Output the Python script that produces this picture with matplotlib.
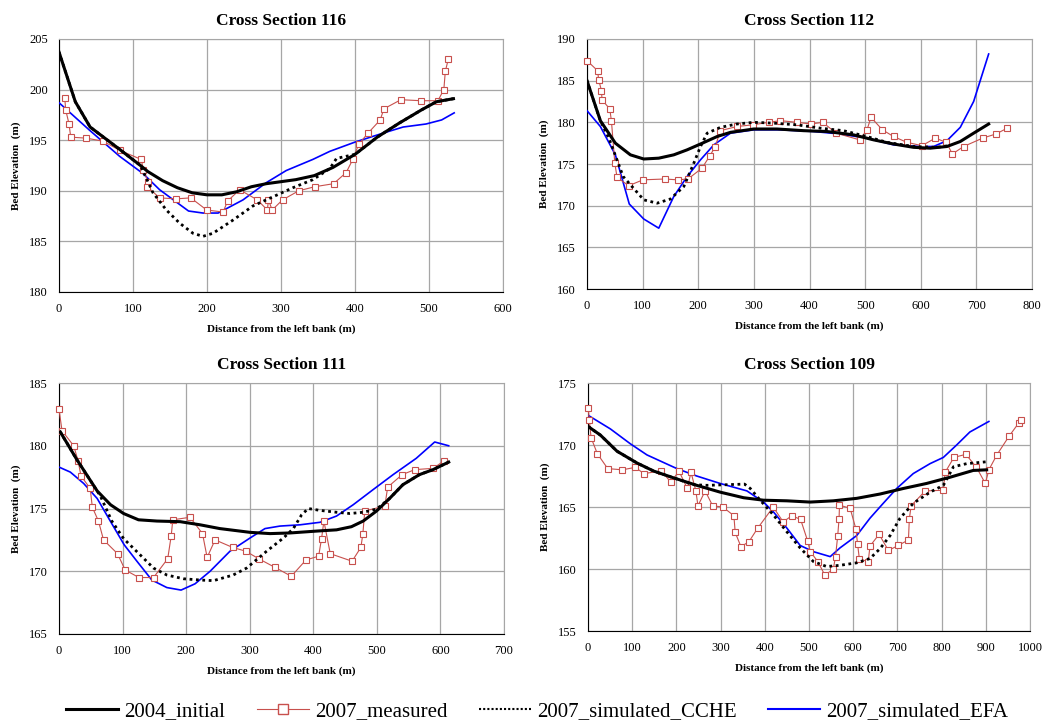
import matplotlib
matplotlib.use("Agg")
import matplotlib.pyplot as plt
from matplotlib.lines import Line2D

plt.rcParams["font.family"] = ["Liberation Serif", "DejaVu Serif"]

# ---- Cross Section 116 ----
xs116_init = [0, 22, 42, 80, 110, 120, 140, 160, 180, 200, 220, 240, 260, 280, 300, 320, 345, 370, 400, 430, 460, 490, 510, 533]
ys116_init = [203.7, 198.8, 196.3, 194.2, 192.5, 191.9, 191.0, 190.3, 189.8, 189.6, 189.6, 189.9, 190.4, 190.7, 190.9, 191.1,
              191.5, 192.3, 193.6, 195.3, 196.7, 198.0, 198.8, 199.1]
xs116_meas = [7.7, 9, 13.5, 15.8, 37, 59.5, 82, 111, 114, 120, 119, 136, 158, 178, 199.5, 221.6, 228, 244, 268, 281.5, 283,
              288, 302, 324, 345.5, 371, 388, 397, 405, 417.6, 434, 439, 462, 489, 512, 520, 522, 526]
ys116_meas = [199.2, 198.0, 196.6, 195.3, 195.2, 194.9, 194.0, 193.1, 192.1, 190.9, 190.4, 189.3, 189.2, 189.3, 188.1, 187.9,
              189.0, 190.1, 189.1, 188.1, 189.1, 188.1, 189.1, 190.0, 190.4, 190.7, 191.8, 193.1, 194.6, 195.7, 197.0, 198.1,
              199.0, 198.9, 198.9, 200.0, 201.8, 203.0]
xs116_cche = [0, 22, 42, 80, 110, 127, 145, 163, 181, 194.6, 208, 235, 262, 289, 316, 343, 366, 375, 400, 430, 460, 490, 510, 533]
ys116_cche = [203.7, 198.8, 196.3, 194.2, 192.5, 189.8, 188.1, 186.8, 185.8, 185.5, 185.8, 187.1, 188.5, 189.4, 190.3, 191.1,
              192.2, 193.2, 193.6, 195.3, 196.7, 198.0, 198.8, 199.1]
xs116_efa = [0, 41, 82, 113.5, 136, 175, 194.6, 215, 248.6, 280, 307, 343, 366, 399.5, 438, 465, 496, 517, 534]
ys116_efa = [198.7, 196.0, 193.4, 191.7, 190.1, 188.0, 187.8, 187.8, 189.1, 190.8, 192.0, 193.1, 193.9, 194.8, 195.7, 196.3,
             196.6, 197.0, 197.7]

# ---- Cross Section 112 ----
xs112_init = [0, 24, 51, 78, 102, 129, 156, 180, 204, 234, 258, 300, 341.5, 389.5, 431, 479, 515, 551, 587, 617, 647, 671, 695, 722]
ys112_init = [185.0, 180.2, 177.5, 176.1, 175.6, 175.7, 176.1, 176.7, 177.4, 178.3, 178.8, 179.2, 179.2, 179.0, 178.9, 178.5,
              177.9, 177.4, 177.0, 176.9, 177.1, 177.7, 178.7, 179.8]
xs112_meas = [0, 19, 21, 26, 27, 41, 44, 50, 54, 75, 100.6, 139.6, 163, 181.5, 206.7, 221, 230.7, 239.7, 269.6, 298, 326.5,
              347.5, 377.5, 402.6, 423.6, 448, 490, 503.3, 510.5, 531, 551, 575, 602, 626, 646, 656.7, 677, 711, 735, 755.5]
ys112_meas = [187.4, 186.2, 185.1, 183.8, 182.7, 181.6, 180.1, 175.1, 173.4, 172.4, 173.1, 173.2, 173.1, 173.2, 174.5, 176.0,
              177.1, 179.0, 179.5, 179.7, 180.0, 180.2, 180.0, 179.8, 180.0, 178.7, 177.9, 179.1, 180.6, 179.1, 178.3, 177.6,
              177.2, 178.1, 177.6, 176.2, 177.1, 178.1, 178.6, 179.3]
xs112_cche = [0, 24, 40, 65, 102, 126, 150, 174, 192, 204, 216, 240, 269.6, 300, 336, 377.5, 419.5, 461, 503, 539, 587, 629, 650]
ys112_cche = [185.0, 180.2, 178.0, 173.5, 170.7, 170.3, 170.8, 172.3, 175.1, 177.1, 178.7, 179.4, 179.8, 180.0, 179.9, 179.7,
              179.3, 179.0, 178.3, 177.6, 177.1, 177.0, 177.2]
xs112_efa = [0, 24, 51, 76, 102, 129, 156, 180, 204, 228, 258, 300, 347, 407, 455, 503, 551, 599, 623, 647, 671, 695, 722]
ys112_efa = [181.4, 179.5, 176.1, 170.2, 168.4, 167.3, 171.1, 173.5, 175.5, 177.3, 178.7, 179.1, 179.1, 178.9, 178.6, 178.1,
             177.3, 177.1, 177.1, 177.8, 179.4, 182.5, 188.2]

# ---- Cross Section 111 ----
xs111_init = [2, 28, 60, 81, 101.6, 125, 154, 190.6, 222, 253, 300.5, 332, 363, 405, 436.6, 460, 478.5, 499.5, 520, 541, 567,
              588.5, 613]
ys111_init = [181.1, 178.9, 176.4, 175.3, 174.6, 174.1, 174.0, 173.95, 173.7, 173.4, 173.1, 173.0, 173.05, 173.2, 173.3,
              173.55, 174.0, 174.8, 175.8, 176.9, 177.7, 178.1, 178.7]
xs111_meas = [0, 4.7, 23, 30, 34.5, 49, 52.4, 62, 70, 92, 104, 125.7, 148.7, 171, 176.4, 179, 206, 225.7, 233, 245.5, 273,
              293.7, 314, 340, 365.4, 388.5, 408.4, 413, 416.7, 426.7, 461, 474.9, 478, 481, 512.6, 517, 539.8, 559.8,
              588.5, 605.8]
ys111_meas = [182.9, 181.2, 180.0, 178.8, 177.6, 176.6, 175.1, 174.0, 172.5, 171.4, 170.1, 169.5, 169.5, 171.0, 172.8, 174.1,
              174.3, 173.0, 171.1, 172.5, 171.9, 171.6, 171.0, 170.3, 169.6, 170.9, 171.2, 172.6, 174.0, 171.4, 170.8,
              171.9, 173.0, 174.8, 175.2, 176.7, 177.7, 178.1, 178.2, 178.8]
xs111_cche = [2, 28, 65, 83, 101.6, 127.7, 148.7, 169.6, 195.8, 222, 243, 274, 295, 326.7, 353, 368.6, 381.7, 392, 410.5,
              436.6, 457.5, 478.5, 499.5, 520, 541, 567, 588.5, 613]
ys111_cche = [181.1, 178.9, 176.0, 174.0, 172.6, 171.3, 170.25, 169.7, 169.4, 169.3, 169.25, 169.7, 170.25, 171.6, 172.65,
              173.4, 174.5, 175.0, 174.85, 174.7, 174.6, 174.7, 174.95, 175.8, 176.9, 177.7, 178.1, 178.7]
xs111_efa = [0, 17.8, 38.7, 60, 80.6, 102.6, 122.5, 146, 169.6, 192, 214, 237.7, 269, 300.5, 324, 347.6, 379, 410.5, 436.6,
             462.8, 494, 525.6, 562, 591, 613]
ys111_efa = [178.3, 177.9, 177.0, 175.8, 174.0, 172.1, 170.8, 169.3, 168.7, 168.5, 169.0, 170.0, 171.6, 172.65, 173.4, 173.6,
             173.7, 173.9, 174.4, 175.3, 176.5, 177.7, 179.0, 180.3, 180.0]

# ---- Cross Section 109 ----
xs109_init = [0, 28, 65.6, 110.8, 148.5, 193.7, 246, 299, 352, 397, 450, 502.6, 555, 608, 661, 714, 766, 819, 871.5, 902]
ys109_init = [171.5, 170.8, 169.5, 168.55, 167.9, 167.35, 166.75, 166.2, 165.75, 165.55, 165.5, 165.4, 165.5, 165.7, 166.05,
              166.5, 166.9, 167.4, 167.95, 168.0]
xs109_meas = [0, 3, 6.8, 21, 44.5, 77.6, 107, 126, 166, 187.6, 205.7, 224.6, 233, 244, 248.7, 265, 282, 305, 330, 333, 346,
              364, 384, 419, 441.6, 461, 481, 496.6, 503, 520, 536, 555, 560, 565, 568, 569, 593, 606, 610, 614, 634, 638,
              658.6, 679.7, 702, 725, 727, 731, 763, 804, 808, 828, 855, 879, 899, 907, 925, 952.5, 975, 980]
ys109_meas = [173.0, 172.0, 170.6, 169.3, 168.1, 168.0, 168.2, 167.7, 167.9, 167.0, 167.9, 166.5, 167.8, 166.3, 165.1, 166.3,
              165.1, 165.0, 164.3, 162.95, 161.8, 162.2, 163.3, 165.0, 163.8, 164.3, 164.0, 162.3, 161.4, 160.6, 159.5,
              160.0, 161.0, 162.7, 164.05, 165.15, 164.9, 163.25, 162.0, 160.8, 160.6, 161.85, 162.8, 161.5, 161.9, 162.35,
              164.0, 165.1, 166.3, 166.35, 167.8, 169.0, 169.25, 168.2, 166.9, 168.0, 169.2, 170.7, 171.8, 172.0]
xs109_cche = [0, 28, 65.6, 110.8, 148.5, 193.7, 239, 269, 314, 354, 367, 389.6, 419.7, 450, 480, 510, 540, 570, 608, 638,
              661, 683.5, 706, 736, 774, 804, 827, 857, 902]
ys109_cche = [171.5, 170.8, 169.5, 168.55, 167.9, 167.35, 166.8, 166.75, 166.8, 166.85, 166.5, 165.55, 164.35, 163.0, 161.7,
              160.6, 160.2, 160.3, 160.5, 160.85, 161.65, 162.7, 164.1, 165.3, 166.2, 166.75, 168.25, 168.5, 168.65]
xs109_efa = [0, 50.5, 95.7, 133.4, 201, 246, 299, 359.5, 397, 419.7, 450, 480, 510, 548, 570, 608, 638, 668, 698.6, 736, 774,
             804, 834, 864, 907]
ys109_efa = [172.4, 171.3, 170.1, 169.2, 168.1, 167.5, 166.9, 166.3, 165.4, 164.6, 163.3, 161.9, 161.4, 161.0, 161.7, 162.7,
             164.1, 165.3, 166.5, 167.7, 168.5, 169.0, 170.0, 171.05, 171.9]

RED = "#C8504D"

panels = [
    ("Cross Section 116", [0.0566, 0.5956, 0.4257, 0.3504], (0, 600, 100), (180, 205, 5),
     (xs116_init, ys116_init), (xs116_meas, ys116_meas), (xs116_cche, ys116_cche), (xs116_efa, ys116_efa)),
    ("Cross Section 112", [0.5628, 0.5997, 0.4267, 0.3463], (0, 800, 100), (160, 190, 5),
     (xs112_init, ys112_init), (xs112_meas, ys112_meas), (xs112_cche, ys112_cche), (xs112_efa, ys112_efa)),
    ("Cross Section 111", [0.0566, 0.1219, 0.4266, 0.3476], (0, 700, 100), (165, 185, 5),
     (xs111_init, ys111_init), (xs111_meas, ys111_meas), (xs111_cche, ys111_cche), (xs111_efa, ys111_efa)),
    ("Cross Section 109", [0.5638, 0.1260, 0.4237, 0.3435], (0, 1000, 100), (155, 175, 5),
     (xs109_init, ys109_init), (xs109_meas, ys109_meas), (xs109_cche, ys109_cche), (xs109_efa, ys109_efa)),
]

fig = plt.figure(figsize=(10.43, 7.22), dpi=100)

for title, rect, (x0, x1, dx), (y0, y1, dy), init, meas, cche, efa in panels:
    ax = fig.add_axes(rect)
    ax.plot(*efa, color="#0000FF", lw=1.2, zorder=3)
    ax.plot(*meas, color=RED, lw=0.8, marker="s", ms=4, mfc="white", mec=RED, mew=0.8, zorder=4, clip_on=False)
    ax.plot(*cche, color="black", lw=2.0, ls=(0, (1, 1.3)), zorder=5)
    ax.plot(*init, color="black", lw=2.2, zorder=6)
    ax.set_xlim(x0, x1)
    ax.set_ylim(y0, y1)
    ax.set_xticks(range(x0, x1 + 1, dx))
    ax.set_yticks(range(y0, y1 + 1, dy))
    ax.grid(True, color="#A6A6A6", lw=0.9)
    ax.set_axisbelow(True)
    for s in ("top", "right"):
        ax.spines[s].set_color("#A6A6A6")
    for s in ("left", "bottom"):
        ax.spines[s].set_color("black")
    ax.tick_params(length=0, labelsize=9, pad=8)
    ax.set_title(title, fontsize=12.5, fontweight="bold", pad=10)
    ax.set_xlabel("Distance from the left bank (m)", fontsize=8, fontweight="bold", labelpad=7)
    ax.set_ylabel("Bed Elevation  (m)", fontsize=8, fontweight="bold", labelpad=6)

handles = [
    Line2D([], [], color="black", lw=2.2),
    Line2D([], [], color=RED, lw=0.8, marker="s", ms=7, mfc="white", mec=RED),
    Line2D([], [], color="black", lw=1.5, ls=(0, (1, 1))),
    Line2D([], [], color="#0000FF", lw=1.5),
]
labels = ["2004_initial", "2007_measured", "2007_simulated_CCHE", "2007_simulated_EFA"]
fig.legend(handles, labels, loc="center", bbox_to_anchor=(0.515, 0.015), ncol=4, frameon=False,
           fontsize=15, handlelength=2.5, handletextpad=0.3, columnspacing=1.5)

fig.savefig("out.png", dpi=100)
